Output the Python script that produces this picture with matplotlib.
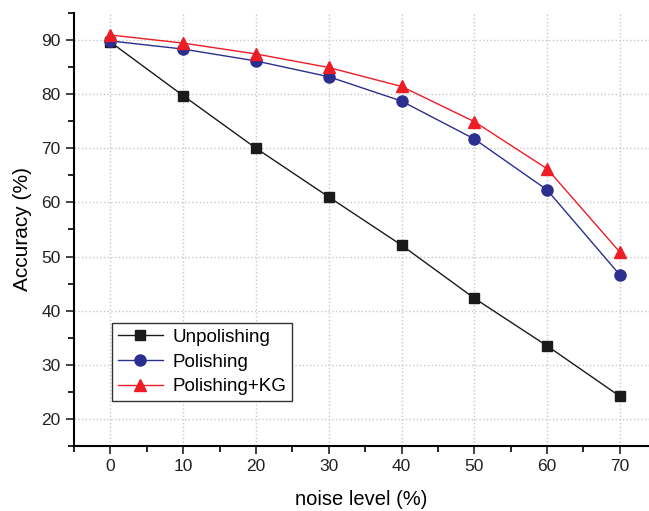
import matplotlib
matplotlib.use("Agg")
import matplotlib.pyplot as plt
from matplotlib.ticker import MultipleLocator

plt.rcParams['font.family'] = ['Liberation Sans', 'DejaVu Sans']

noise = [0, 10, 20, 30, 40, 50, 60, 70]
unpolishing = [89.6, 79.7, 70.0, 61.0, 52.1, 42.3, 33.5, 24.2]
polishing = [89.8, 88.3, 86.1, 83.2, 78.7, 71.7, 62.3, 46.6]
polishing_kg = [90.9, 89.4, 87.4, 84.9, 81.4, 74.9, 66.2, 50.8]

fig = plt.figure(figsize=(6.49, 5.11), dpi=100)
ax = fig.add_axes([0.114, 0.127, 0.886, 0.848])

ax.plot(noise, unpolishing, color='#1a1a1a', marker='s', markersize=7.5, lw=1, label='Unpolishing')
ax.plot(noise, polishing, color='#2b2f8f', marker='o', markersize=8, lw=1, label='Polishing')
ax.plot(noise, polishing_kg, color='#ee1c24', marker='^', markersize=9, lw=1, label='Polishing+KG')

ax.set_xlim(-5, 74)
ax.set_ylim(15, 95)
ax.xaxis.set_major_locator(MultipleLocator(10))
ax.xaxis.set_minor_locator(MultipleLocator(5))
ax.yaxis.set_major_locator(MultipleLocator(10))
ax.yaxis.set_minor_locator(MultipleLocator(5))
ax.tick_params(which='major', direction='out', length=6, width=1.2, labelsize=12.5, colors='#222222')
ax.tick_params(which='minor', direction='out', length=4, width=1.2)
ax.grid(True, which='major', linestyle=':', color='#c8c8c8', lw=1)

ax.spines['top'].set_visible(False)
ax.spines['right'].set_visible(False)
ax.spines['left'].set_linewidth(1.5)
ax.spines['bottom'].set_linewidth(1.5)

ax.set_xlabel('noise level (%)', fontsize=14.5, labelpad=11)
ax.set_ylabel('Accuracy (%)', fontsize=15, labelpad=7)

leg = ax.legend(loc='lower left', bbox_to_anchor=(0.05, 0.083), fontsize=13.5, fancybox=False,
                edgecolor='#333333', framealpha=1, handlelength=2.4, borderpad=0.3,
                labelspacing=0.4, handletextpad=0.5)
leg.get_frame().set_linewidth(1)

fig.savefig('out.png', dpi=100)
